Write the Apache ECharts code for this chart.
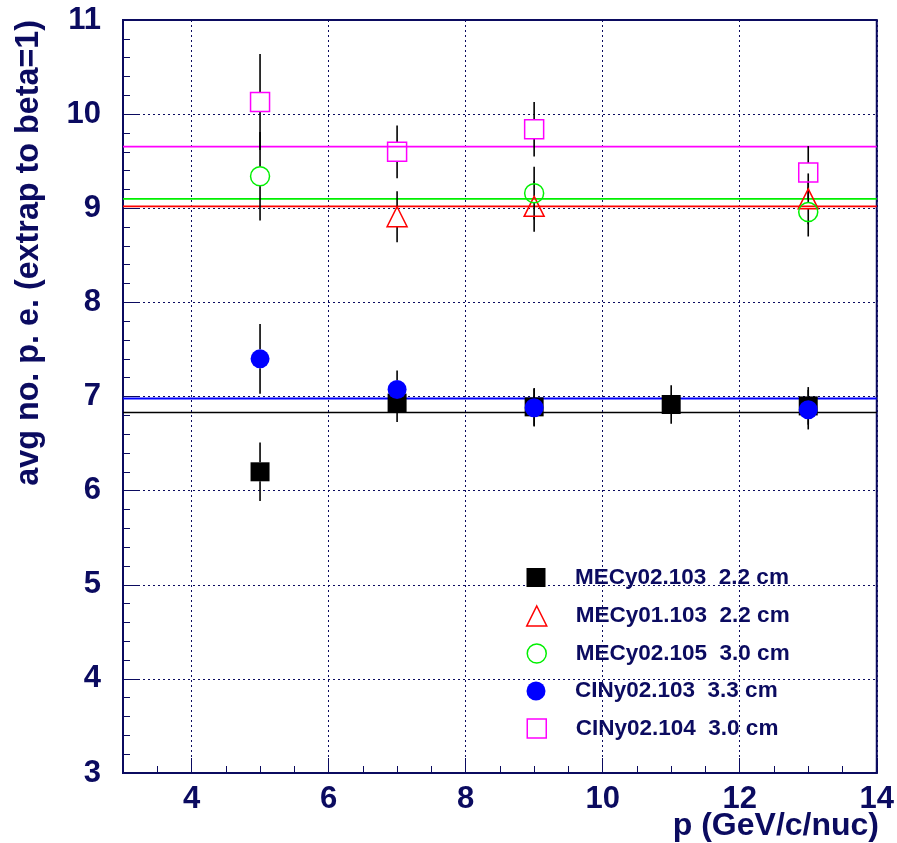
<!DOCTYPE html>
<html><head><meta charset="utf-8">
<script src="https://cdn.jsdelivr.net/npm/echarts@6/dist/echarts.min.js"></script>
<style>html,body{margin:0;padding:0;background:#fff}#c{width:897px;height:843px}</style>
</head><body><div id="c"></div>
<script>
const NAVY = '#0b0b60';
const FONT = '"Liberation Sans", Arial, Helvetica, sans-serif';

// tick values
const xTicks = [4, 6, 8, 10, 12, 14];
const xMinorTicks = [3.5, 4.5, 5, 5.5, 6.5, 7, 7.5, 8.5, 9, 9.5, 10.5, 11, 11.5, 12.5, 13, 13.5];

// series names
const seriesNames = ['MECy02.103  2.2 cm', 'MECy01.103  2.2 cm', 'MECy02.105  3.0 cm', 'CINy02.103  3.3 cm', 'CINy02.104  3.0 cm'];

// data: x, y, error
const blackX = [5, 7, 9, 11, 13];
const blackY = [6.20, 6.93, 6.89, 6.915, 6.90];
const blackErr = [0.31, 0.20, 0.20, 0.205, 0.20];

const redX = [7, 9, 13];
const redY = [8.91, 9.02, 9.10];
const redErr = [0.27, 0.27, 0.27];

const greenX = [5, 9, 13];
const greenY = [9.34, 9.16, 8.96];
const greenErr = [0.47, 0.28, 0.26];

const blueX = [5, 7, 9, 13];
const blueY = [7.40, 7.075, 6.88, 6.86];
const blueErr = [0.37, 0.20, 0.20, 0.21];

const magentaX = [5, 7, 9, 13];
const magentaY = [10.13, 9.60, 9.84, 9.38];
const magentaErr = [0.51, 0.28, 0.29, 0.28];

// horizontal fit levels
const fitValues = [6.83, 9.02, 9.10, 6.98, 9.655];
const xRange = [3, 14];

const colors = ['#000000', '#ff0000', '#00f000', '#0000ff', '#ff00ff'];
const symbols = ['rect', 'triangle', 'circle', 'circle', 'rect'];
const hollow = [false, true, true, false, true];
const symSizes = [19, 20, 19, 19, 19];

const allX = [blackX, redX, greenX, blueX, magentaX];
const allY = [blackY, redY, greenY, blueY, magentaY];
const allE = [blackErr, redErr, greenErr, blueErr, magentaErr];

const series = [];
// fit lines
fitValues.forEach((v, i) => {
  series.push({
    type: 'line', silent: true, z: 2,
    data: [[xRange[0], v], [xRange[1], v]],
    showSymbol: false, symbol: 'none',
    lineStyle: { color: colors[i], width: i === 3 ? 2 : 1.6 },
    animation: false
  });
});
// error bars
allX.forEach((xs, s) => {
  const gap = symSizes[s] / 2;
  series.push({
    type: 'custom', silent: true, z: 3, animation: false,
    data: xs.map((x, i) => [x, allY[s][i], allE[s][i]]),
    encode: { x: 0, y: 1 },
    renderItem: function (params, api) {
      const x = api.value(0), y = api.value(1), e = api.value(2);
      const c = api.coord([x, y]);
      const t = api.coord([x, y + e]);
      const b = api.coord([x, y - e]);
      const ch = [];
      const st = { stroke: '#000', lineWidth: 1.6 };
      if (c[1] - gap > t[1]) ch.push({ type: 'line', shape: { x1: c[0], y1: t[1], x2: c[0], y2: c[1] - gap }, style: st });
      if (b[1] > c[1] + gap) ch.push({ type: 'line', shape: { x1: c[0], y1: c[1] + gap, x2: c[0], y2: b[1] }, style: st });
      return { type: 'group', children: ch };
    }
  });
});
// markers
allX.forEach((xs, s) => {
  series.push({
    name: seriesNames[s],
    type: 'scatter', z: 4 + s, animation: false,
    symbol: symbols[s], symbolSize: symSizes[s],
    data: xs.map((x, i) => [x, allY[s][i]]),
    itemStyle: hollow[s]
      ? { color: 'rgba(255,255,255,0)', borderColor: colors[s], borderWidth: 1.5, opacity: 1 }
      : { color: colors[s], opacity: 1 }
  });
});

const legendRows = [577, 615.5, 653, 690.5, 728];
const legends = seriesNames.map((n, s) => ({
  data: [n], orient: 'vertical', left: 536 - symSizes[s] / 2, top: legendRows[s] - 11, padding: 0,
  itemWidth: symSizes[s], itemHeight: symSizes[s], selectedMode: false,
  itemStyle: hollow[s] ? { borderWidth: 1.5, borderColor: colors[s], color: 'rgba(255,255,255,0)' } : { borderWidth: 0, color: colors[s] },
  formatter: function (name) { return '{sp|}' + name; },
  textStyle: { color: NAVY, fontSize: 22.5, fontWeight: 'bold', fontFamily: FONT, lineHeight: 22,
    rich: { sp: { width: 34 - symSizes[s] / 2, height: 10 } } }
}));

const chart = echarts.init(document.getElementById('c'), null, { renderer: 'canvas' });
chart.setOption({
  animation: false,
  backgroundColor: '#ffffff',
  grid: { left: 123, right: 18, top: 20, bottom: 70, show: true, borderColor: NAVY, borderWidth: 2, backgroundColor: 'transparent' },
  legend: legends,
  xAxis: [{
    type: 'value', min: xRange[0], max: xRange[1],
    axisLine: { show: true, lineStyle: { color: NAVY, width: 2 } },
    axisTick: { show: true, inside: true, length: 15, customValues: xTicks, lineStyle: { color: NAVY, width: 1 } },
    axisLabel: { show: true, customValues: xTicks, color: NAVY, fontSize: 31, fontWeight: 'bold', fontFamily: FONT, margin: 11 },
    splitLine: { show: true, lineStyle: { color: NAVY, width: 1, type: [2, 3] } }
  }, {
    type: 'value', min: xRange[0], max: xRange[1], position: 'bottom',
    axisLine: { show: false },
    axisTick: { show: true, inside: true, length: 7, customValues: xMinorTicks, lineStyle: { color: NAVY, width: 1 } },
    axisLabel: { show: false },
    splitLine: { show: false }
  }],
  yAxis: {
    type: 'value', min: 3, max: 11, interval: 1,
    axisLine: { show: true, lineStyle: { color: NAVY, width: 2 } },
    axisTick: { show: true, inside: true, length: 15, lineStyle: { color: NAVY, width: 1 } },
    minorTick: { show: true, splitNumber: 5, length: 7, lineStyle: { color: NAVY, width: 1 } },
    axisLabel: { color: NAVY, fontSize: 31, fontWeight: 'bold', fontFamily: FONT, margin: 22 },
    splitLine: { show: true, lineStyle: { color: NAVY, width: 1, type: [2, 3] } }
  },
  graphic: [
    { type: 'text', x: 29, y: 20, rotation: Math.PI / 2, z: 10,
      style: { text: 'avg no. p. e. (extrap to beta=1)', fill: NAVY, font: 'bold 32.3px ' + FONT, textAlign: 'right', textVerticalAlign: 'middle', align: 'right', verticalAlign: 'middle' } },
    { type: 'text', x: 879, y: 826, z: 10,
      style: { text: 'p (GeV/c/nuc)', fill: NAVY, font: 'bold 32px ' + FONT, textAlign: 'right', textVerticalAlign: 'middle', align: 'right', verticalAlign: 'middle' } }
  ],
  series: series
});
</script></body></html>
